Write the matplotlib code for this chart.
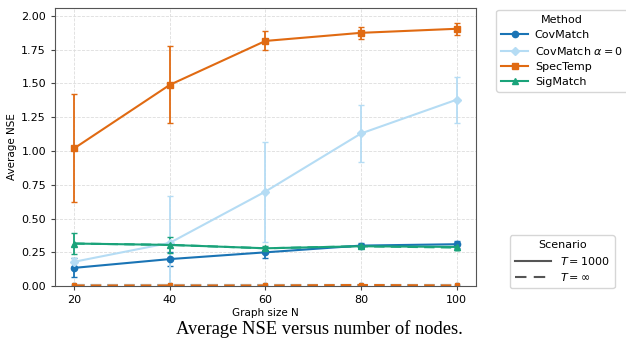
import matplotlib.pyplot as plt
from matplotlib.lines import Line2D
import numpy as np

N = [20, 40, 60, 80, 100]

# T = 1000
cov = [0.135, 0.20, 0.25, 0.30, 0.31]
cov_err = [0.07, 0.05, 0.04, 0.02, 0.025]
cov0 = [0.18, 0.32, 0.70, 1.13, 1.38]
cov0_err = [0.03, 0.345, 0.37, 0.21, 0.17]
spec = [1.02, 1.49, 1.815, 1.875, 1.905]
spec_err = [0.40, 0.285, 0.07, 0.045, 0.045]
sig = [0.315, 0.305, 0.28, 0.295, 0.29]
sig_err = [0.08, 0.06, 0.02, 0.015, 0.02]

# T = inf
cov_inf = [0.005, 0.005, 0.005, 0.005, 0.005]
cov0_inf = [0.005, 0.005, 0.005, 0.005, 0.005]
spec_inf = [0.005, 0.005, 0.005, 0.008, 0.005]
sig_inf = [0.315, 0.305, 0.28, 0.295, 0.285]

methods = ["CovMatch", r"CovMatch $\alpha=0$", "SpecTemp", "SigMatch"]
colors = ["#1a74b5", "#b5dcf4", "#e06a12", "#1aa37a"]
markers = ["o", "D", "s", "^"]

fig = plt.figure(figsize=(6.26, 3.41), dpi=100)
ax = fig.add_axes([0.088, 0.161, 0.672, 0.816])

series = [
    (cov, cov_err, cov_inf),
    (cov0, cov0_err, cov0_inf),
    (spec, spec_err, spec_inf),
    (sig, sig_err, sig_inf),
]
for (vals, err, vinf), c, m in zip(series, colors, markers):
    ax.errorbar(N, vals, yerr=err, color=c, marker=m, ms=4.5, lw=1.5,
                capsize=2, elinewidth=1.3, capthick=1)
    ax.plot(N, vinf, color=c, marker=m, ms=3, lw=1.5, ls=(0, (5, 3)))

ax.set_xlim(16, 104)
ax.set_ylim(0, 2.06)
ax.set_xticks(N)
ax.set_yticks([0, 0.25, 0.5, 0.75, 1.0, 1.25, 1.5, 1.75, 2.0])
ax.set_yticklabels(["0.00", "0.25", "0.50", "0.75", "1.00", "1.25", "1.50", "1.75", "2.00"])
ax.tick_params(labelsize=8, length=3, color="#444444")
ax.grid(True, ls="--", lw=0.6, color="#dddddd")
for s in ax.spines.values():
    s.set_color("#555555")
ax.set_xlabel("Graph size N", fontsize=7.5, labelpad=2)
ax.set_ylabel("Average NSE", fontsize=7.5, labelpad=3)

h1 = [Line2D([], [], color=c, marker=m, ms=4.5, lw=1.5) for c, m in zip(colors, markers)]
leg1 = fig.legend(h1, methods, title="Method", loc="upper left",
                  bbox_to_anchor=(0.793, 0.972), borderaxespad=0, fontsize=8,
                  title_fontsize=8, frameon=True, handlelength=2.4,
                  handletextpad=0.6, borderpad=0.45, labelspacing=0.45)
leg1.get_frame().set_edgecolor("#cccccc")

h2 = [Line2D([], [], color="#555555", lw=1.5),
      Line2D([], [], color="#555555", lw=1.5, ls=(0, (5.5, 3.5)))]
leg2 = fig.legend(h2, [r"$T = 1000$", r"$T = \infty$"], title="Scenario", loc="upper left",
                  bbox_to_anchor=(0.815, 0.31), borderaxespad=0, fontsize=8,
                  title_fontsize=8, frameon=True, handlelength=3.2,
                  borderpad=0.45, labelspacing=0.4)
leg2.get_frame().set_edgecolor("#cccccc")

fig.text(0.51, 0.02, "Average NSE versus number of nodes.", ha="center",
         fontsize=13.3, family="Liberation Serif")

fig.savefig("out.png", dpi=100)
